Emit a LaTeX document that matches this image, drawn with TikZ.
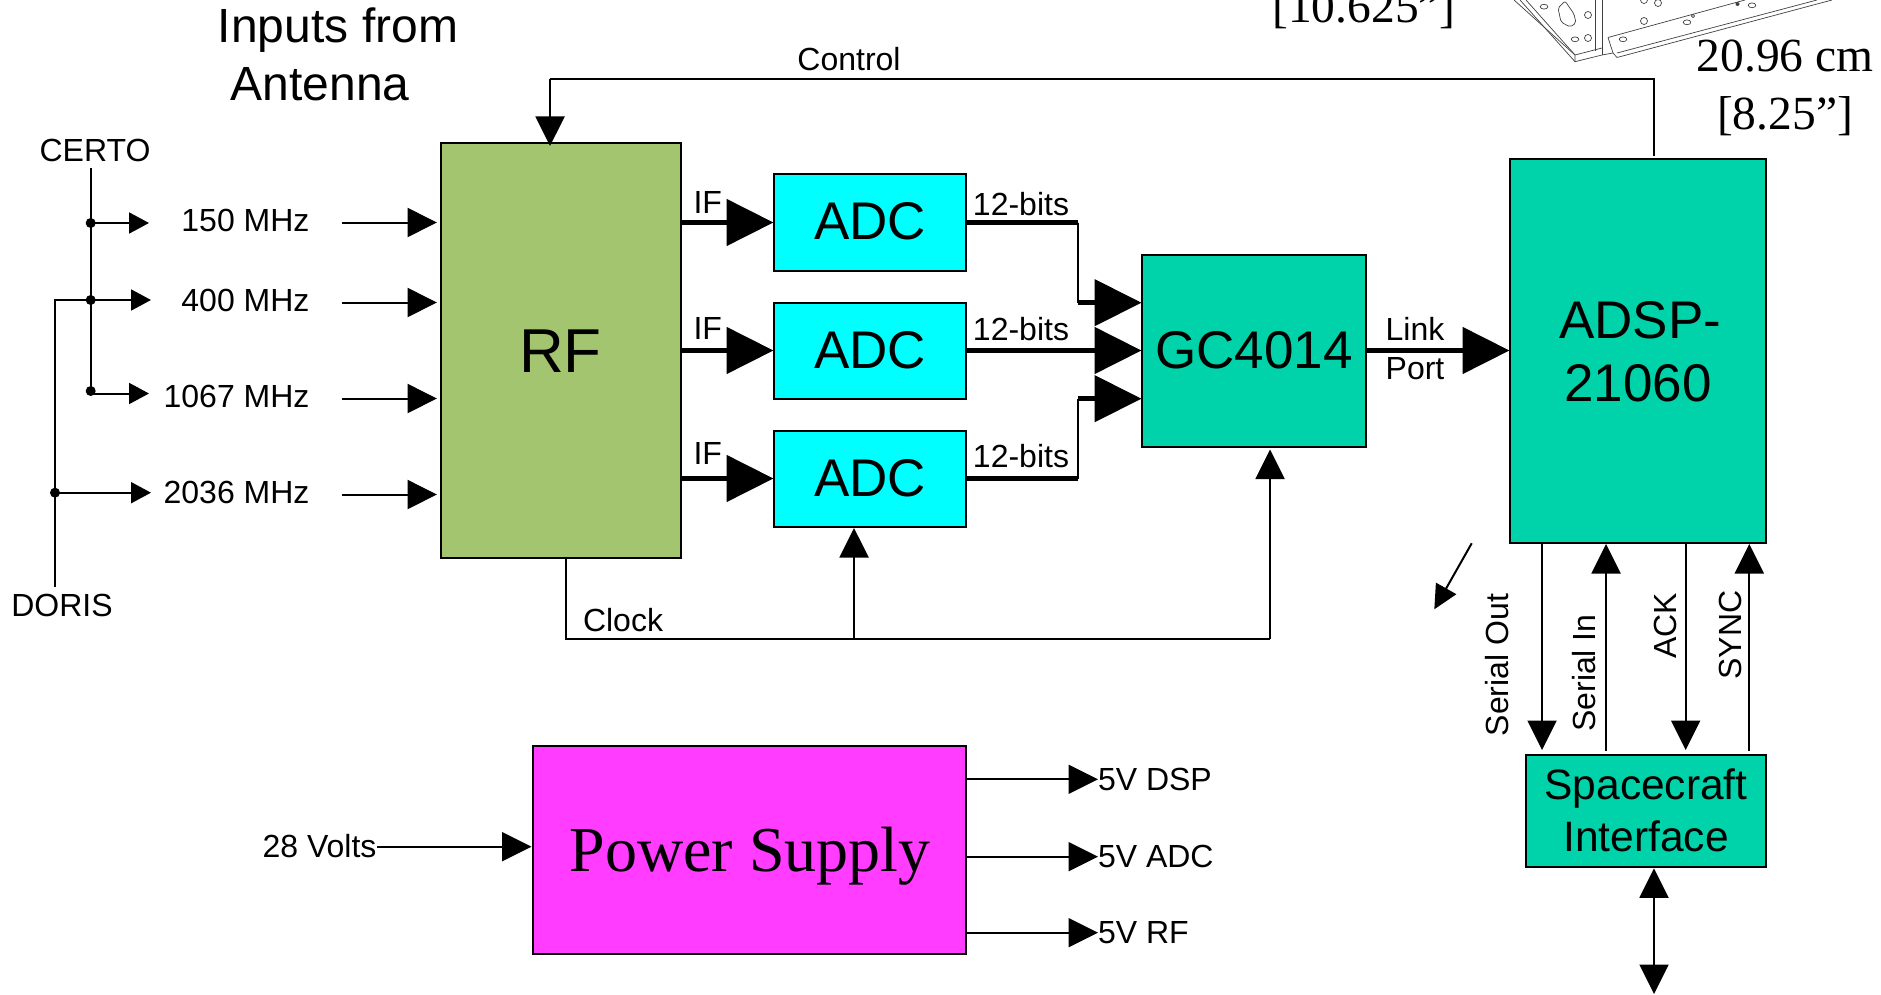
\documentclass[tikz,border=0pt]{standalone}
\usepackage{fontspec}
\setmainfont{Liberation Sans}
\newfontfamily\timesf{Liberation Serif}
\usetikzlibrary{arrows.meta,calc}
\definecolor{rfgreen}{HTML}{A4C56F}
\definecolor{adccyan}{HTML}{00FFFF}
\definecolor{teal2}{HTML}{00D2A9}
\definecolor{psmag}{HTML}{FF3CFF}
\newcommand{\fsz}[1]{\fontsize{#1}{#1}\selectfont}
\tikzset{
  blockbox/.style={draw=black,line width=2pt,inner sep=0pt,outer sep=0pt,anchor=north west},
  lab/.style={inner sep=0pt,outer sep=0pt,anchor=base,font=\fsz{32}},
  labr/.style={lab,anchor=base east},
  labl/.style={lab,anchor=base west},
  vlab/.style={lab,rotate=90},
  big/.style={lab,font=\fsz{53}},
  tms/.style={lab,font=\timesf\fsz{47.5}},
  ant/.style={lab,font=\fsz{48}},
  thin2/.style={line width=2pt},
  arrM/.style={line width=2pt,-{Triangle[length=29.5pt,width=29pt]}},
  arrB/.style={line width=2pt,{Triangle[length=29.5pt,width=29pt]}-{Triangle[length=29.5pt,width=29pt]}},
  arrS/.style={line width=2pt,-{Triangle[length=20pt,width=21pt]}},
  arrT/.style={line width=5pt,-{Triangle[length=47pt,width=46pt]}},
  dotn/.style={circle,fill=black,inner sep=0pt,minimum size=10pt},
  cad/.style={line width=.7pt,black!75},
}
\begin{document}
\begin{tikzpicture}[x=1pt,y=-1pt]
\useasboundingbox (0,0) rectangle (1881,995);
\clip (0,0) rectangle (1881,995);
% blocks
\node[blockbox,fill=rfgreen,minimum width=239.5pt,minimum height=415pt] (rf) at (441,143) {};
\node[blockbox,fill=adccyan,minimum width=192pt,minimum height=96pt] (adc1) at (774,174.5) {};
\node[blockbox,fill=adccyan,minimum width=192pt,minimum height=96pt] (adc2) at (774,302.5) {};
\node[blockbox,fill=adccyan,minimum width=192pt,minimum height=96pt] (adc3) at (774,430.5) {};
\node[blockbox,fill=teal2,minimum width=224pt,minimum height=192pt] (gc) at (1142,254.5) {};
\node[blockbox,fill=teal2,minimum width=256pt,minimum height=384pt] (dsp) at (1510,159) {};
\node[blockbox,fill=teal2,minimum width=240pt,minimum height=112pt] (sc) at (1526,755) {};
\node[blockbox,fill=psmag,minimum width=433pt,minimum height=208pt] (ps) at (533,746) {};
% block labels
\node[lab,font=\fsz{62}] (trf) at (560.5,372) {RF};
\node[big] (ta1) at (870,240) {ADC};
\node[big] (ta2) at (870,368) {ADC};
\node[big] (ta3) at (870,496) {ADC};
\node[big] (tgc) at (1254,368) {GC4014};
\node[big] (td1) at (1640,338) {ADSP-};
\node[big] (td2) at (1638,401.5) {21060};
\node[lab,font=\fsz{42.5}] (ts1) at (1646,799) {Spacecraft};
\node[lab,font=\fsz{42.5}] (ts2) at (1646,851.5) {Interface};
\node[lab,font=\timesf\fsz{64}] (tps) at (750,871) {Power Supply};
% title and dimensions
\node[ant] (in1) at (338,43) {Inputs from};
\node[ant] (in2) at (320,101) {Antenna};
\node[tms] (d0) at (1364,23) {[10.625”]};
\node[tms] (d1) at (1785,72) {20.96 cm};
\node[tms] (d2) at (1785,130) {[8.25”]};
% left tree
\node[lab] (certo) at (95,161.7) {CERTO};
\node[lab] (doris) at (62,616.7) {DORIS};
\node[labr] (f1) at (309.5,231) {150 MHz};
\node[labr] (f2) at (309.5,311) {400 MHz};
\node[labr] (f3) at (309.5,407) {1067 MHz};
\node[labr] (f4) at (309.5,503) {2036 MHz};
\node[dotn] (n1) at (90.7,223) {};
\node[dotn] (n2) at (90.7,300) {};
\node[dotn] (n3) at (90.7,391) {};
\node[dotn] (n4) at (55,492.7) {};
\coordinate (ctop) at (90.7,168);
\coordinate (dbot) at (55,587);
\coordinate (djoin) at (55,300);
\coordinate (t1) at (149,223);
\coordinate (t2) at (151,300);
\coordinate (t3) at (149,393.5);
\coordinate (t4) at (151,492.7);
\draw[thin2] (ctop) -- (n3.center);
\draw[thin2,line cap=square] (dbot) -- (djoin) -- (n2.center);
\draw[arrS] (n1.center) -- (t1);
\draw[arrS] (n2.center) -- (t2);
\draw[arrS] (n3.center |- t3) -- (t3);
\draw[arrS] (n4.center) -- (t4);
% inputs to RF
\coordinate (s1) at (341.7,222.5);
\coordinate (s2) at (341.7,302.5);
\coordinate (s3) at (341.7,398.5);
\coordinate (s4) at (341.7,494.5);
\foreach \c in {s1,s2,s3,s4}{\draw[arrM,shorten >=4pt] (\c) -- (\c -| rf.west);}
% RF to ADC
\draw[arrT,shorten >=.5pt] (rf.east |- adc1.west) -- (adc1.west);
\draw[arrT,shorten >=.5pt] (rf.east |- adc2.west) -- (adc2.west);
\draw[arrT,shorten >=.5pt] (rf.east |- adc3.west) -- (adc3.west);
\node[lab] (if1) at (707.8,214) {IF};
\node[lab] (if2) at (707.8,339) {IF};
\node[lab] (if3) at (707.8,464) {IF};
% ADC to GC
\coordinate (b1) at (1078,222.5);
\coordinate (b3) at (1078,478.5);
\coordinate (g1) at (1142,302.7);
\coordinate (g3) at (1142,398.7);
\draw[line width=5pt] (adc1.east) -- (b1);
\draw[line width=5pt] (adc3.east) -- (b3);
\draw[line width=2.5pt] (b1) -- (b1 |- g1);
\draw[line width=2.5pt] (b3) -- (b3 |- g3);
\draw[arrT,shorten >=.5pt] (b1 |- g1) -- (g1);
\draw[arrT,shorten >=.5pt] (b3 |- g3) -- (g3);
\draw[arrT,shorten >=.5pt] (adc2.east) -- (gc.west);
\node[lab] (b12a) at (1021,215) {12-bits};
\node[lab] (b12b) at (1021,340) {12-bits};
\node[lab] (b12c) at (1021,467) {12-bits};
% link port
\draw[arrT,shorten >=.5pt] (gc.east) -- (gc.east -| dsp.west);
\node[lab] (lp1) at (1415,340) {Link};
\node[lab] (lp2) at (1415,379) {Port};
% control
\coordinate (ctl) at (1654,79);
\draw[line width=2pt] (dsp.north -| ctl) ++(0,-3) -- (ctl) -- (ctl -| 550,0) coordinate (ctl2);
\draw[arrM] (ctl2) -- (550,146);
\node[lab] (tc) at (849,70.7) {Control};
% clock
\coordinate (ck1) at (566,638.5);
\coordinate (ck2) at (1270,638.5);
\draw[line width=2pt] (rf.south -| ck1) -- (ck1) -- (ck2);
\draw[arrM] (ck2) -- (1270,449.5);
\draw[arrM] (854,638.5) -- (854,528);
\node[lab] (tck) at (623,631) {Clock};
% serial
\draw[arrM] (1542,543) -- (1542,750);
\draw[arrM] (1606,751) -- (1606,544);
\draw[arrM] (1685.7,543) -- (1685.7,750);
\draw[arrM] (1749.3,751) -- (1749.3,544);
\node[vlab] (v1) at (1508,665) {Serial Out};
\node[vlab] (v2) at (1595,673) {Serial In};
\node[vlab] (v3) at (1676.7,626) {ACK};
\node[vlab] (v4) at (1741.7,635) {SYNC};
\coordinate (diag1) at (1471.7,543.3);
\coordinate (diag2) at (1434.3,609.3);
\draw[line width=2pt,-{Triangle[length=24pt,width=23pt]}] (diag1) -- (diag2);
\coordinate (bio) at (1654,994);
\draw[arrB] (1654,868.3) -- (bio);
% power
\node[lab] (v28) at (319.5,857.3) {28 Volts};
\coordinate (pin) at (377,846.7);
\draw[arrM,shorten >=1.5pt] (pin) -- (pin -| ps.west);
\coordinate (po1) at (966,779.3);
\coordinate (po2) at (966,856.7);
\coordinate (po3) at (966,932.7);
\draw[arrM] (po1) -- (1098,779.3);
\draw[arrM] (po2) -- (1098,856.7);
\draw[arrM] (po3) -- (1098,932.7);
\node[labl] (o1) at (1098,790.7) {5V DSP};
\node[labl] (o2) at (1098,867.3) {5V ADC};
\node[labl] (o3) at (1098,943.3) {5V RF};
% CAD fragment
\begin{scope}[cad]
\draw (1514,0) -- (1575,55) -- (1575,61.7) -- (1602,55) -- (1613,53) -- (1617,57.5) -- (1832,0);
\draw (1520,0) -- (1575,61.7);
\draw (1526,0) -- (1575,55) -- (1602,48);
\draw (1617,53) -- (1817,0);
\draw (1608,37.5) -- (1745,0);
\draw (1595,0) -- (1595,51.5);
\draw (1602,0) -- (1602,55);
\draw (1608,37.5) -- (1613,53);
\draw (1544,6.7) ellipse (3.8 and 2.4);
\draw (1575,39.3) ellipse (3.8 and 2.4);
\draw (1623,39.3) ellipse (3.8 and 2.4);
\draw (1687,22.3) ellipse (3.8 and 2.4);
\draw (1752,5.3) ellipse (3.8 and 2.4);
\draw (1693,16) circle (1.6);
\draw[rounded corners=2pt] (1558,8) -- (1565,1) -- (1574,14) -- (1576,23) -- (1570,27) -- (1561,22) -- cycle;
\draw (1588,15) circle (3.5);
\draw (1588,38) circle (3.5);
\draw (1644,21) circle (3.5);
\draw (1658,3) circle (3.5);
\draw (1644,0) circle (3.5);
\fill (1737.5,4) circle (2);
\end{scope}
\end{tikzpicture}
\end{document}
